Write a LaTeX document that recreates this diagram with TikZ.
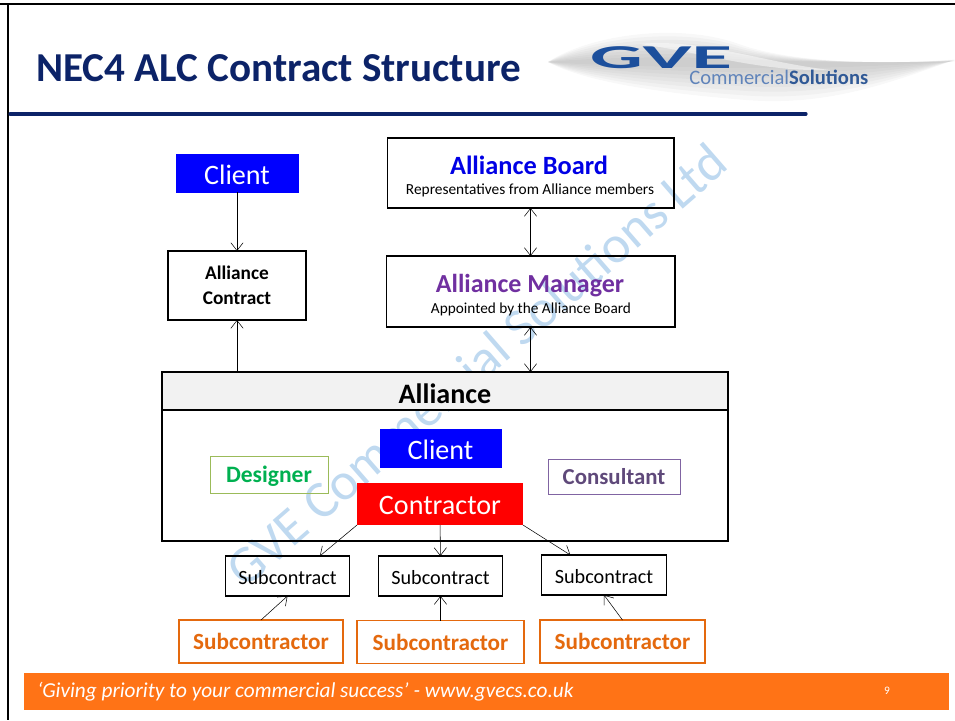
\documentclass[tikz,border=0pt]{standalone}
\usepackage{fontspec}
\setmainfont{Carlito}
\usetikzlibrary{calc}
\usetikzlibrary{arrows.meta}
\definecolor{gveorange}{HTML}{FF7316}
\definecolor{gvenavy}{HTML}{0C2368}
\definecolor{gveblue}{HTML}{1C4F9C}
\definecolor{gvemark}{HTML}{BFD9F0}
\definecolor{subtext}{HTML}{E4690E}
\tikzset{
    box/.style={draw=black, line width=0.6pt, inner sep=0pt, outer sep=0pt, align=center},
    bluebox/.style={fill=blue, draw=blue, text=white, inner sep=0pt, outer sep=0pt, text height=13pt, font=\fontsize{16}{19}\selectfont},
    subbox/.style={box, minimum width=2.49cm, minimum height=0.8cm, text height=10pt, font=\fontsize{11.5}{13}\selectfont},
    orangebox/.style={draw=subtext, line width=0.7pt, inner sep=0pt, outer sep=0pt, text=subtext, minimum height=0.86cm, font=\bfseries\fontsize{13.2}{16}\selectfont},
    arr/.style={-{Straight Barb[length=4.5pt,width=7pt]}, line width=0.3pt},
    darr/.style={{Straight Barb[length=4.5pt,width=7pt]}-{Straight Barb[length=4.5pt,width=7pt]}, line width=0.3pt}
}
\begin{document}
\begin{tikzpicture}[x=0.02cm,y=-0.02cm]
\useasboundingbox (0,0) rectangle (955,720);

% slide frame
\draw[line width=1.7pt] (0,4) -- (955,4);
\draw[line width=1.2pt] (8,4) -- (8,720);
\draw[gvenavy, line width=1.8pt, line cap=round] (10,114) -- (806,114);
\node[anchor=west, inner sep=0pt, text=gvenavy, font=\bfseries\fontsize{23.4}{28}\selectfont] (title) at (36,68) {NEC4 ALC Contract Structure};

% logo
\foreach \s in {1.25,1.1,...,0.2}{
\fill[gray, opacity=0.06, yscale=\s, shift={(0,{62*(1/\s-1)})}] (548,62) .. controls (590,40) and (680,30) .. (740,48) .. controls (790,62) and (880,65) .. (955,60) .. controls (880,82) and (820,98) .. (740,92) .. controls (680,88) and (590,80) .. cycle;
}
\fill[white, opacity=0.5] (640,44) .. controls (700,38) and (760,62) .. (830,70) .. controls (760,72) and (700,52) .. cycle;
\node[text=gveblue, xscale=2.48, font=\bfseries\fontsize{19}{22}\selectfont] (gve) at (661,58) {GVE};
\node[anchor=west, text=gveblue!70!white, inner sep=0pt, font=\fontsize{11.7}{13}\selectfont] (sol) at (689,77) {Commercial\textcolor{gveblue!80!gray}{\textbf{Solutions}}};

% watermark
\node[text=gvemark, rotate=41, font=\fontsize{30}{34}\selectfont] (mark) at (476,365) {GVE Commercial Solutions Ltd};

% top part
\node[bluebox, minimum width=2.44cm, minimum height=0.76cm] (client) at (237,173) {Client};
\node[box, minimum width=2.76cm, minimum height=1.38cm, font=\bfseries\fontsize{11}{14.5}\selectfont] (contract) at (237,285.5) {Alliance\\Contract};
\node[box, minimum width=5.74cm, minimum height=1.4cm] (board) at (530.5,173) {};
\node[text=blue!90!black, font=\bfseries\fontsize{15}{18}\selectfont] (boardname) at (529,165) {Alliance Board};
\node[font=\fontsize{8.75}{10}\selectfont] (boardnote) at (530,190) {Representatives from Alliance members};
\node[box, minimum width=5.78cm, minimum height=1.42cm] (manager) at (530.5,291.5) {};
\node[text={rgb,255:red,112;green,48;blue,160}, font=\bfseries\fontsize{14.8}{18}\selectfont] (managername) at (530,285.5) {Alliance Manager};
\node[font=\fontsize{8.7}{10}\selectfont] (managernote) at (531,309) {Appointed by the Alliance Board};

% alliance
\node[box, line width=0.8pt, fill=black!5, minimum width=11.32cm, minimum height=0.76cm, text height=14.5pt, font=\bfseries\fontsize{16}{19}\selectfont] (alliance) at (445,391) {Alliance};
\node[box, line width=0.8pt, minimum width=11.32cm, minimum height=2.62cm, anchor=north] (body) at (alliance.south) {};
\node[bluebox, minimum width=2.42cm, minimum height=0.76cm] (member) at (440.5,448) {Client};
\node[fill=red, text=white, inner sep=0pt, outer sep=0pt, minimum width=3.32cm, minimum height=0.84cm, text height=12pt, font=\fontsize{16}{19}\selectfont] (contractor) at (440,504) {Contractor};
\node[draw={rgb,255:red,155;green,187;blue,89}, inner sep=0pt, outer sep=0pt, minimum width=2.36cm, minimum height=0.74cm, text={rgb,255:red,0;green,176;blue,80}, text height=11pt, font=\bfseries\fontsize{13.4}{15}\selectfont] (designer) at (269,474.5) {Designer};
\node[draw={rgb,255:red,128;green,100;blue,162}, inner sep=0pt, outer sep=0pt, minimum width=2.64cm, minimum height=0.7cm, text={rgb,255:red,95;green,73;blue,122}, font=\bfseries\fontsize{13}{15}\selectfont] (consultant) at (614,476.5) {Consultant};

% subcontracts
\node[subbox] (subA) at (287.5,576) {Subcontract};
\node[subbox] (subB) at (440.5,576) {Subcontract};
\node[subbox] (subC) at (604,575) {Subcontract};
\node[orangebox, minimum width=3.28cm] (firmA) at (261,641.5) {Subcontractor};
\node[orangebox, minimum width=3.34cm] (firmB) at (440.5,642) {Subcontractor};
\node[orangebox, minimum width=3.3cm] (firmC) at (622.5,641.5) {Subcontractor};

% footer
\fill[gveorange] (24,673) rectangle (949,710);
\node[anchor=west, text=white, inner sep=0pt, font=\itshape\fontsize{12.1}{14}\selectfont] (motto) at (37,692) {‘Giving priority to your commercial success’ - www.gvecs.co.uk};
\node[text=white, font=\fontsize{6.5}{8}\selectfont] (page) at (887,691) {9};

% connectors
\draw[arr] (client) -- (contract);
\draw[arr] (contract.south |- alliance.north) -- (contract);
\draw[darr] (board) -- (manager);
\draw[darr] (manager) -- (manager.south |- alliance.north);
\draw[arr] (contractor.south west) -- ($(subA.north west)!0.76!(subA.north east)$);
\draw[arr] (contractor) -- (subB);
\draw[arr] (contractor.south east) -- ($(subC.north west)!0.23!(subC.north east)$);
\draw[arr] (firmA.north) -- (subA.south);
\draw[arr] (firmB) -- (subB);
\draw[arr] (firmC.north) -- (subC.south);
\end{tikzpicture}
\end{document}
